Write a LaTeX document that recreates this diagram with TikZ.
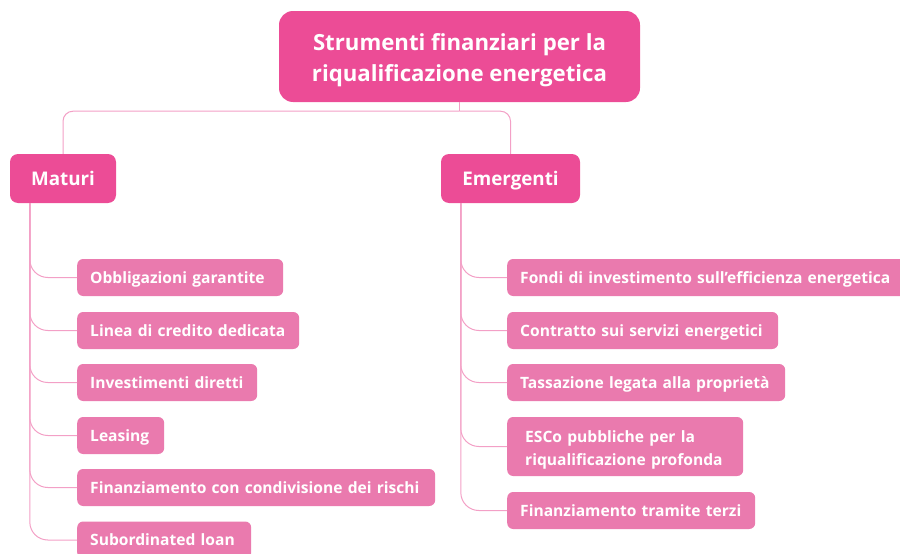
\documentclass[tikz,border=0pt]{standalone}
\usepackage{fontspec}
\setmainfont{Open Sans}
\usepackage{xcolor}
\usetikzlibrary{calc}
\definecolor{rootpink}{RGB}{236,76,150}
\definecolor{leafpink}{RGB}{234,122,174}
\definecolor{linkpink}{RGB}{243,160,198}
\tikzset{
	rootbox/.style={
			rectangle, rounded corners=14pt, fill=rootpink, text=white, align=center,
			font=\bfseries\fontsize{22.2}{31}\selectfont, minimum width=361pt, minimum height=91pt
		},
	branchbox/.style={
			rectangle, rounded corners=8pt, fill=rootpink, text=white,
			font=\bfseries\fontsize{18.8}{22}\selectfont, minimum height=49pt,
			text height=17pt, text depth=4pt
		},
	leafbox/.style={
			rectangle, rounded corners=6pt, fill=leafpink, text=white, anchor=west, align=left,
			font=\bfseries\fontsize{15.6}{23}\selectfont, minimum height=37pt, inner xsep=13pt,
			text width=#1-26pt
		},
	oneleaf/.style={leafbox=#1, text height=15pt, text depth=3.5pt},
	link/.style={draw=linkpink, line width=1pt},
	twig/.style={link, rounded corners=18pt}
}

\begin{document}
\begin{tikzpicture}[x=1pt,y=1pt]
        \useasboundingbox (0,0) rectangle (900,-554);
        \node[rootbox] (root) at (459.5,-56.5) {\rule{0pt}{24.7pt}Strumenti finanziari per la\\riqualificazione energetica};
        \node[branchbox, minimum width=106pt] (maturi) at (63,-178.5) {Maturi};
        \node[branchbox, minimum width=139pt] (emergenti) at (510.5,-178.5) {Emergenti};
        \coordinate (hub) at ($(root.south)+(0,-9)$);
        \draw[link] (root.south) -- (hub);
        \draw[link, rounded corners=10pt] (hub) -| (maturi.north);
        \draw[link, rounded corners=10pt] (hub) -| (emergenti.north);
        \node[oneleaf=206pt] (obbligazioni) at (77,-277.5) {Obbligazioni garantite};
        \node[oneleaf=222pt] (linea) at (77,-330.5) {Linea di credito dedicata};
        \node[oneleaf=180pt] (investimenti) at (77,-382.5) {Investimenti diretti};
        \node[oneleaf=87pt] (leasing) at (77,-435.5) {Leasing};
        \node[oneleaf=358pt] (condivisione) at (77,-487.5) {Finanziamento con condivisione dei rischi};
        \node[oneleaf=174pt] (subordinated) at (77,-540) {Subordinated loan};
        \foreach \leaf in {obbligazioni,linea,investimenti,leasing,condivisione,subordinated}
                \draw[twig] ([xshift=20pt]maturi.south west) |- (\leaf.west);
        \node[oneleaf=400pt] (fondi) at (507,-277.5) {Fondi di investimento sull’efficienza energetica};
        \node[oneleaf=271pt] (contratto) at (507,-330.5) {Contratto sui servizi energetici};
        \node[oneleaf=278pt] (tassazione) at (507,-382.5) {Tassazione legata alla proprietà};
        \node[leafbox=226pt, minimum height=59pt, inner xsep=18pt] (esco) at (507,-446.5) {\rule{0pt}{18pt}ESCo pubbliche per la\\riqualificazione profonda};
        \node[oneleaf=248pt] (terzi) at (507,-510.5) {Finanziamento tramite terzi};
        \foreach \leaf in {fondi,contratto,tassazione,esco,terzi}
                \draw[twig] ([xshift=20pt]emergenti.south west) |- (\leaf.west);
\end{tikzpicture}
\end{document}
